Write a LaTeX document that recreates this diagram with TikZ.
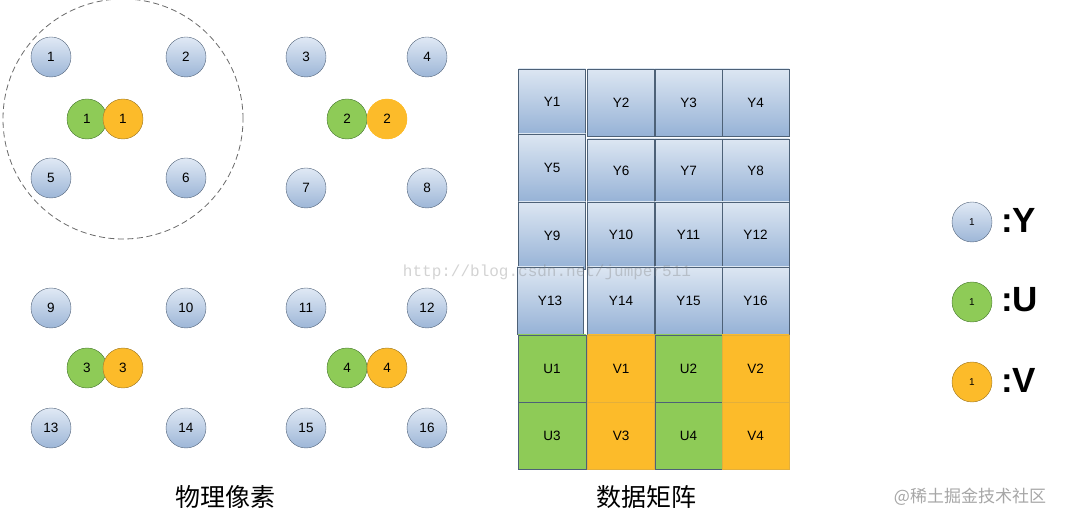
\documentclass[tikz,border=0pt]{standalone}
\usepackage{fontspec}
\setmainfont{Liberation Sans}
\setmonofont{Liberation Mono}
\newfontfamily\cjk{Noto Sans CJK SC}
\usepackage{xcolor}
\usepackage{tikz}
\usetikzlibrary{positioning}

\definecolor{ytop}{HTML}{E0E9F5}
\definecolor{ybot}{HTML}{9DB6D7}
\definecolor{yline}{HTML}{56677D}
\definecolor{ufill}{HTML}{8ECB57}
\definecolor{uline}{HTML}{4E7A3C}
\definecolor{vfill}{HTML}{FCBB2A}
\definecolor{vline}{HTML}{9A7A32}
\definecolor{celltop}{HTML}{DCE6F2}
\definecolor{cellbot}{HTML}{96B2D6}
\definecolor{cellline}{HTML}{4D6177}
\definecolor{ringline}{HTML}{6A6A6A}

\begin{document}
\begin{tikzpicture}[
    x = 1pt, y = -1pt, % one unit per pixel, y down
    node distance = 36pt, % distance between paired samples
    semithick
]
\tikzstyle{ypix}=[
    circle,
    draw = yline,
    thin,
    top color = ytop,
    bottom color = ybot,
    minimum size = 40pt,
    inner sep = 0pt,
    font = \fontsize{13.5}{13.5}\selectfont
]
\tikzstyle{upix}=[ypix, fill = ufill, top color = ufill, bottom color = ufill, draw = uline]
\tikzstyle{vpix}=[ypix, fill = vfill, top color = vfill, bottom color = vfill, draw = vline]
\tikzstyle{ycell}=[
    rectangle,
    draw = cellline,
    thin,
    top color = celltop,
    bottom color = cellbot,
    minimum width = 67pt,
    minimum height = 66pt,
    inner sep = 0pt,
    font = \fontsize{13.5}{13.5}\selectfont
]
\tikzstyle{ucell}=[ycell, top color = ufill, bottom color = ufill, minimum height = 67pt]
\tikzstyle{vcell}=[ycell, top color = vfill, bottom color = vfill, draw = vfill!80!gray, minimum height = 67pt]
\tikzstyle{caption}=[font = \cjk\fontsize{25}{25}\selectfont]
\tikzstyle{keytext}=[anchor = west, inner sep = 0pt, font = \bfseries\fontsize{35}{35}\selectfont]

\useasboundingbox (0,0) rectangle (1068,526);

% physical pixels
\draw[ringline, line width = 0.8pt, dash pattern = on 6pt off 3.5pt] (123,119) circle (120pt);

\node[ypix] (y1) at (51,57) {1};
\node[ypix] (y2) at (186,57) {2};
\node[ypix] (y3) at (306,57) {3};
\node[ypix] (y4) at (427,57) {4};
\node[ypix] (y5) at (51,178) {5};
\node[ypix] (y6) at (186,178) {6};
\node[ypix] (y7) at (306,188) {7};
\node[ypix] (y8) at (427,188) {8};
\node[ypix] (y9) at (51,308) {9};
\node[ypix] (y10) at (186,308) {10};
\node[ypix] (y11) at (306,308) {11};
\node[ypix] (y12) at (427,308) {12};
\node[ypix] (y13) at (51,428) {13};
\node[ypix] (y14) at (186,428) {14};
\node[ypix] (y15) at (306,428) {15};
\node[ypix] (y16) at (427,428) {16};

\node[upix] (u1) at (87,119) {1};
\node[vpix] (v1) [right of=u1] {1};
\node[upix] (u2) at (347,119) {2};
\node[vpix, draw = vfill] (v2) [right of=u2, node distance = 40pt] {2};
\node[upix] (u3) at (87,368) {3};
\node[vpix] (v3) [right of=u3] {3};
\node[upix] (u4) at (347,368) {4};
\node[vpix] (v4) [right of=u4, node distance = 40pt] {4};

\node[caption] (phys) at (225,497) {物理像素};

% data matrix
\node[ycell, minimum height = 65pt] (cy1) at (552,101.5) {Y1};
\node[ycell, minimum height = 67pt] (cy2) at (621,102.5) {Y2};
\node[ycell, minimum height = 67pt] (cy3) at (688.5,102.5) {Y3};
\node[ycell, minimum height = 67pt] (cy4) at (755.5,102.5) {Y4};
\node[ycell, minimum height = 68pt] (cy5) at (552,168) {Y5};
\node[ycell, minimum height = 63pt] (cy6) at (621,170.5) {Y6};
\node[ycell, minimum height = 63pt] (cy7) at (688.5,170.5) {Y7};
\node[ycell, minimum height = 63pt] (cy8) at (755.5,170.5) {Y8};
\node[ycell, minimum height = 67pt] (cy9) at (552,235.5) {Y9};
\node[ycell, minimum height = 65pt] (cy10) at (621,234.5) {Y10};
\node[ycell, minimum height = 65pt] (cy11) at (688.5,234.5) {Y11};
\node[ycell, minimum height = 65pt] (cy12) at (755.5,234.5) {Y12};
\node[ycell, minimum width = 66pt, minimum height = 67pt] (cy13) at (550,300.5) {Y13};
\node[ycell, minimum height = 67pt] (cy14) at (621,300.5) {Y14};
\node[ycell, minimum height = 67pt] (cy15) at (688.5,300.5) {Y15};
\node[ycell, minimum height = 67pt] (cy16) at (755.5,300.5) {Y16};

\node[ucell, minimum width = 68pt] (cu1) at (552,368.5) {U1};
\node[vcell] (cv1) at (621,368.5) {V1};
\node[ucell] (cu2) at (688.5,368.5) {U2};
\node[vcell] (cv2) at (755.5,368.5) {V2};
\node[ucell, minimum width = 68pt] (cu3) at (552,435.5) {U3};
\node[vcell] (cv3) at (621,435.5) {V3};
\node[ucell] (cu4) at (688.5,435.5) {U4};
\node[vcell] (cv4) at (755.5,435.5) {V4};

\node[caption] (data) at (646,497) {数据矩阵};

% key
\node[ypix, font = \fontsize{10}{10}\selectfont] (ky) at (972,222) {1};
\node[upix, font = \fontsize{10}{10}\selectfont] (ku) at (972,302) {1};
\node[vpix, font = \fontsize{10}{10}\selectfont] (kv) at (972,382) {1};
\node[keytext] (kyt) at (1001,220) {:Y};
\node[keytext] (kut) at (1001,300) {:U};
\node[keytext] (kvt) at (1001,380) {:V};

% watermarks
\node[text = gray, text opacity = 0.35, font = \ttfamily\fontsize{16}{16}\selectfont] (mark) at (547,272) {http://blog.csdn.net/jumper511};
\node[text = gray!70, font = \cjk\fontsize{17}{17}\selectfont] (site) at (970,497) {@稀土掘金技术社区};

\end{tikzpicture}
\end{document}
